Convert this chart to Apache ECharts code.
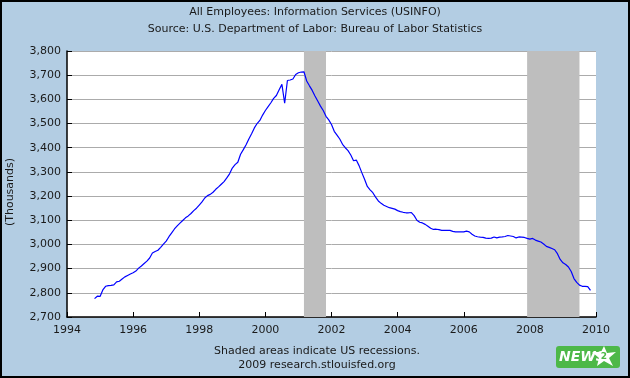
<!DOCTYPE html>
<html>
<head>
<meta charset="utf-8">
<script src="https://cdn.jsdelivr.net/npm/echarts@6/dist/echarts.min.js"></script>
<style>
html,body{margin:0;padding:0;background:#B3CDE3;}
#chart{width:630px;height:378px;}
</style>
</head>
<body>
<div id="chart"></div>
<script>
// ---- data ----
const titleLines = ["All Employees: Information Services (USINFO)", "Source: U.S. Department of Labor: Bureau of Labor Statistics"];
const yAxisName = "(Thousands)";
const footerLines = ["Shaded areas indicate US recessions.", "2009 research.stlouisfed.org"];
const startYear = 1994;
const startMonth = 11; // Nov 1994
// Monthly values, thousands of employees (Nov 1994 .. Nov 2009)
const usinfo = [
  2776, 2786, 2785, 2812, 2827, 2830, 2831, 2833, 2845, 2848, 2857, 2866,   // Nov94-Oct95
  2872, 2878, 2883, 2890, 2902, 2911, 2921, 2931, 2944, 2965, 2971, 2976,   // Nov95-Oct96
  2988, 3001, 3014, 3032, 3048, 3064, 3077, 3088, 3099, 3110, 3118, 3128,   // Nov96-Oct97
  3140, 3150, 3163, 3176, 3192, 3202, 3207, 3216, 3228, 3238, 3249, 3260,   // Nov97-Oct98
  3275, 3292, 3316, 3330, 3340, 3373, 3392, 3412, 3436, 3458, 3482, 3500,   // Nov98-Oct99
  3513, 3535, 3554, 3570, 3586, 3604, 3616, 3640, 3662, 3584, 3678, 3680,   // Nov99-Oct00
  3684, 3703, 3710, 3713, 3714, 3676, 3656, 3637, 3614, 3593, 3572, 3554,   // Nov00-Oct01
  3530, 3515, 3496, 3468, 3452, 3436, 3414, 3400, 3388, 3370, 3346, 3349,   // Nov01-Oct02
  3326, 3297, 3270, 3240, 3226, 3214, 3196, 3180, 3170, 3162, 3157, 3152,   // Nov02-Oct03
  3149, 3146, 3140, 3136, 3133, 3131, 3131, 3132, 3119, 3100, 3092, 3089,   // Nov03-Oct04
  3083, 3075, 3067, 3062, 3063, 3061, 3058, 3058, 3058, 3058, 3054, 3052,   // Nov04-Oct05
  3052, 3052, 3052, 3055, 3052, 3042, 3035, 3032, 3030, 3029, 3026, 3025,   // Nov05-Oct06
  3026, 3031, 3027, 3030, 3031, 3033, 3037, 3035, 3033, 3027, 3031, 3030,   // Nov06-Oct07
  3029, 3025, 3022, 3025, 3018, 3014, 3010, 3002, 2992, 2988, 2983, 2978,   // Nov07-Oct08
  2962, 2938, 2924, 2917, 2907, 2888, 2859, 2843, 2832, 2827, 2827, 2826,   // Nov08-Oct09
  2810                                                                        // Nov09
];
// Recessions (decimal years): Mar 2001 - Nov 2001, Dec 2007 - Jun 2009
const recessionStart = [2001 + 2/12, 2007 + 11/12];
const recessionEnd   = [2001 + 10/12, 2009 + 6/12];
const xTicks = { min: 1994, max: 2010, step: 2 };
const yTicks = { min: 2700, max: 3800, step: 100 };

// ---- build ----
const seriesData = usinfo.map((v, i) => [startYear + (startMonth - 1 + i) / 12, v]);
const areas = recessionStart.map((s, i) => [{ xAxis: s }, { xAxis: recessionEnd[i] }]);

const FONT = 'DejaVu Sans';
const TXT = '#1a1a1a';
const chart = echarts.init(document.getElementById('chart'), null, { renderer: 'canvas' });

chart.setOption({
  backgroundColor: '#B3CDE3',
  animation: false,
  grid: { left: 67, right: 34, top: 51, bottom: 61, show: true, backgroundColor: '#FFFFFF', borderWidth: 0 },
  xAxis: {
    type: 'value', min: xTicks.min, max: xTicks.max, interval: xTicks.step,
    axisLine: { show: true, lineStyle: { color: '#000', width: 1.5 } },
    axisTick: { show: true, inside: true, length: 5, lineStyle: { color: '#000', width: 1 } },
    splitLine: { show: false },
    axisLabel: { color: TXT, fontFamily: FONT, fontSize: 11, margin: 8, formatter: v => String(v) }
  },
  yAxis: {
    type: 'value', min: yTicks.min, max: yTicks.max, interval: yTicks.step,
    axisLine: { show: true, lineStyle: { color: '#000', width: 1.5 } },
    axisTick: { show: true, inside: true, length: 5, lineStyle: { color: '#000', width: 1 } },
    splitLine: { show: true, lineStyle: { color: '#ABABAB', width: 1 } },
    axisLabel: { color: TXT, fontFamily: FONT, fontSize: 11, margin: 6 }
  },
  series: [{
    type: 'line',
    data: seriesData,
    showSymbol: false,
    lineStyle: { color: '#0000FF', width: 1.2 },
    itemStyle: { color: '#0000FF' },
    z: 5,
    markArea: {
      silent: true,
      itemStyle: { color: '#BEBEBE', opacity: 1 },
      data: areas
    }
  }],
  graphic: [
    { type: 'text', left: 'center', top: 7, style: { text: titleLines[0], font: '11px ' + FONT, fill: TXT } },
    { type: 'text', left: 'center', top: 24, style: { text: titleLines[1], font: '11px ' + FONT, fill: TXT } },
    { type: 'text', x: 10, y: 192, rotation: Math.PI / 2,
      style: { text: yAxisName, font: '11px ' + FONT, fill: TXT, align: 'center', verticalAlign: 'middle' } },
    { type: 'text', x: 317, y: 351, style: { text: footerLines[0], font: '11px ' + FONT, fill: TXT, align: 'center', verticalAlign: 'middle' } },
    { type: 'text', x: 317, y: 365, style: { text: footerLines[1], font: '11px ' + FONT, fill: TXT, align: 'center', verticalAlign: 'middle' } },
    // NEWS badge
    { type: 'rect', shape: { x: 556, y: 346, width: 64, height: 22, r: 3 }, style: { fill: '#4DB848' } },
    { type: 'text', x: 559, y: 357, style: { text: 'NEWS', font: 'italic bold 14px ' + FONT, fill: '#FFFFFF', verticalAlign: 'middle' } },
    { type: 'polygon', shape: { points: [[604,346],[607,353],[616,352],[609,358],[613,366],[604,361],[597,366],[599,358],[592,352],[601,352]] },
      style: { fill: '#FFFFFF' } },
    { type: 'text', x: 604, y: 357, style: { text: '2', font: 'bold 9px ' + FONT, fill: '#4DB848', align: 'center', verticalAlign: 'middle' } },
    // outer frame
    { type: 'rect', shape: { x: 1, y: 1, width: 628, height: 376 }, style: { fill: 'none', stroke: '#000', lineWidth: 2 }, z: 100 }
  ]
});
</script>
</body>
</html>
